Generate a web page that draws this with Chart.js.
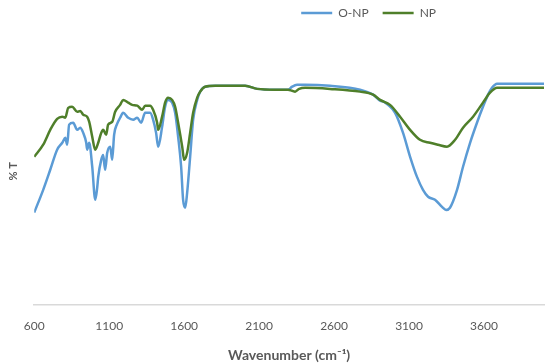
<!DOCTYPE html>
<html>
<head>
<meta charset="utf-8">
<script src="https://cdn.jsdelivr.net/npm/chart.js@4.4.1/dist/chart.umd.min.js"></script>
<style>
  html, body { margin: 0; padding: 0; background: #fff; }
  #wrap { width: 550px; height: 364px; position: relative; }
</style>
</head>
<body>
<div id="wrap"><canvas id="ftir"></canvas></div>
<script>
const onpWavenumber = [600, 660, 707, 753, 787, 807, 820, 833, 860, 887, 907, 927, 947, 953, 967, 987, 1007, 1020, 1027, 1047, 1060, 1073, 1087, 1107, 1120, 1133, 1153, 1173, 1193, 1227, 1260, 1287, 1313, 1340, 1373, 1393, 1413, 1427, 1453, 1473, 1493, 1520, 1540, 1560, 1580, 1593, 1607, 1620, 1640, 1660, 1687, 1707, 1740, 1807, 1907, 2007, 2087, 2207, 2293, 2320, 2353, 2407, 2573, 2773, 2860, 2907, 2933, 2960, 3007, 3060, 3107, 3153, 3193, 3227, 3273, 3320, 3347, 3373, 3420, 3460, 3507, 3553, 3593, 3627, 3653, 3687, 3840, 4000];
const onpT = [33.5, 41.8, 49.1, 56.4, 58.9, 60.7, 58.2, 65.5, 66.2, 63.6, 64.4, 62.5, 58.9, 56.4, 58.9, 50.2, 38.2, 42.5, 46.5, 52.7, 54.5, 49.1, 55.3, 57.5, 52.7, 61.8, 65.8, 68.0, 69.8, 68.0, 67.3, 68.0, 66.2, 69.8, 69.8, 67.3, 62.5, 57.5, 64.7, 72.0, 74.5, 73.5, 69.8, 61.1, 50.2, 38.2, 35.3, 40.7, 53.8, 67.3, 74.5, 77.5, 79.3, 79.6, 79.6, 79.6, 78.5, 78.2, 78.2, 79.3, 80.0, 80.0, 79.6, 78.2, 76.4, 74.2, 73.8, 72.7, 69.8, 62.5, 53.8, 46.5, 41.8, 39.3, 38.2, 35.6, 34.5, 35.3, 41.8, 50.2, 58.9, 66.2, 72.0, 76.4, 78.9, 80.4, 80.4, 80.4];

const npWavenumber = [600, 660, 707, 753, 787, 807, 827, 853, 887, 907, 927, 953, 967, 987, 1007, 1027, 1047, 1060, 1080, 1093, 1120, 1140, 1173, 1193, 1227, 1253, 1287, 1320, 1340, 1373, 1393, 1420, 1427, 1453, 1473, 1493, 1520, 1540, 1560, 1587, 1600, 1620, 1640, 1660, 1687, 1707, 1740, 1807, 1907, 2007, 2087, 2207, 2293, 2320, 2340, 2367, 2407, 2573, 2773, 2860, 2907, 2973, 3040, 3107, 3173, 3240, 3293, 3353, 3407, 3460, 3527, 3593, 3640, 3687, 3840, 4000];
const npT = [53.8, 58.2, 63.6, 67.6, 68.4, 68.0, 71.6, 72.0, 70.2, 70.5, 69.1, 68.4, 66.5, 61.1, 56.4, 58.9, 62.5, 63.6, 61.8, 65.5, 66.5, 70.2, 72.7, 74.5, 73.5, 72.7, 72.4, 70.9, 72.4, 72.4, 70.9, 66.2, 63.6, 68.4, 73.5, 75.3, 74.5, 72.0, 66.2, 57.5, 52.7, 55.3, 62.5, 69.8, 75.3, 77.5, 79.3, 79.6, 79.6, 79.6, 78.5, 78.2, 78.2, 77.8, 77.5, 78.5, 78.9, 78.5, 77.5, 76.4, 74.5, 72.7, 68.4, 63.6, 60.0, 58.9, 58.2, 57.5, 60.0, 64.4, 68.4, 73.5, 77.1, 78.9, 78.9, 78.9];

const xTicks = [600, 1100, 1600, 2100, 2600, 3100, 3600];
const seriesNames = ['O-NP', 'NP'];

// ── Estilo ──────────────────────────────────────────────────────
const COR_ONP = '#5b9bd5';
const COR_NP = '#4f7f2a';
const COR_TEXTO = '#595959';
const FONTE = 'Lato, "Open Sans", sans-serif';

const toPoints = (xs, ys) => xs.map((x, i) => ({ x, y: ys[i] }));

// legenda deslocada para a direita do centro, como no original
const legendaPos = {
    id: 'legendaPos',
    afterLayout(chart) {
        const lg = chart.legend;
        if (!lg) return;
        lg.right = 450;
        lg.top = -7;
    }
};

const ctx = document.getElementById('ftir').getContext('2d');
new Chart(ctx, {
    type: 'line',
    data: {
        datasets: [
            {
                label: seriesNames[1],
                data: toPoints(npWavenumber, npT),
                borderColor: COR_NP,
                backgroundColor: COR_NP,
                borderWidth: 2.5,
                pointRadius: 0,
                cubicInterpolationMode: 'monotone'
            },
            {
                label: seriesNames[0],
                data: toPoints(onpWavenumber, onpT),
                borderColor: COR_ONP,
                backgroundColor: COR_ONP,
                borderWidth: 2.5,
                pointRadius: 0,
                cubicInterpolationMode: 'monotone'
            }
        ]
    },
    options: {
        responsive: true,
        maintainAspectRatio: false,
        animation: false,
        layout: { padding: { top: 2, right: 6, left: 0, bottom: 0 } },
        plugins: {
            legend: {
                position: 'top',
                align: 'end',
                labels: {
                    usePointStyle: true,
                    pointStyle: 'line',
                    pointStyleWidth: 31,
                    padding: 14,
                    color: COR_TEXTO,
                    font: { family: FONTE, size: 12 },
                    sort: (a, b) => b.datasetIndex - a.datasetIndex
                }
            },
            tooltip: { enabled: false }
        },
        scales: {
            x: {
                type: 'linear',
                min: 600,
                max: 4000,
                afterBuildTicks: scale => { scale.ticks = xTicks.map(v => ({ value: v })); },
                grid: { display: false, drawTicks: false },
                border: { display: true, color: '#d9d9d9', width: 1.5 },
                ticks: {
                    padding: 14,
                    color: COR_TEXTO,
                    maxRotation: 0,
                    font: { family: FONTE, size: 12 },
                    callback: v => String(v)
                },
                title: {
                    display: true,
                    text: 'Wavenumber (cm\u207B\u00B9)',
                    color: COR_TEXTO,
                    font: { family: FONTE, size: 14, weight: 'bold' },
                    padding: { top: 0, bottom: 0 }
                }
            },
            y: {
                min: 0,
                max: 97,
                grid: { display: false, drawTicks: false },
                border: { display: false },
                ticks: { display: false },
                title: {
                    display: true,
                    text: '% T',
                    color: COR_TEXTO,
                    font: { family: FONTE, size: 11, weight: 'bold' },
                    padding: { top: 7, bottom: 14 }
                }
            }
        }
    },
    plugins: [legendaPos]
});
</script>
</body>
</html>
